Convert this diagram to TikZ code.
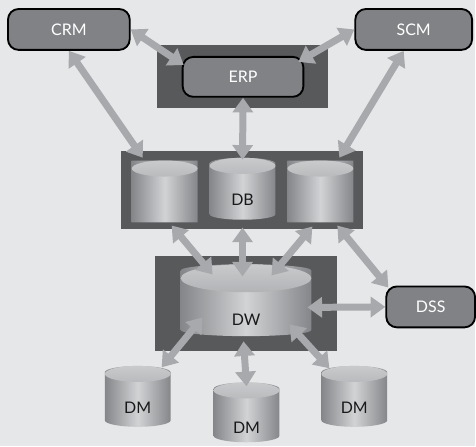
\documentclass[tikz,border=0pt]{standalone}
\usepackage{fontspec}
\setmainfont{Lato}
\usetikzlibrary{shapes.geometric,arrows.meta,calc}
\definecolor{bggray}{HTML}{E6E7E8}
\definecolor{panelgray}{HTML}{58595B}
\definecolor{boxgray}{HTML}{808285}
\definecolor{linkgray}{HTML}{A7A9AC}
\definecolor{cylside}{HTML}{858689}
\definecolor{cyllight}{HTML}{D2D3D5}
\definecolor{captop}{HTML}{C9CACC}
\definecolor{capbot}{HTML}{8E8F92}
\newcommand{\lowered}[2]{\raisebox{-#1}[0pt][0pt]{#2}}
\begin{document}
\begin{tikzpicture}[x=0.75pt, y=-0.75pt,
    panel/.style={rectangle, fill=panelgray, inner sep=0pt},
    app/.style={rectangle, draw=black, line width=1.4pt, fill=boxgray, rounded corners=8pt,
        text=white, minimum height=30.75pt, font=\fontsize{12}{14}\selectfont},
    store/.style 2 args={cylinder, shape border rotate=90, aspect=0.48, inner sep=0pt,
        minimum width=#1, minimum height=#2, left color=cylside, right color=cylside,
        middle color=cyllight, text=black!90, font=\fontsize{12}{14}\selectfont},
    cap/.style 2 args={path picture={\shade[top color=captop, bottom color=capbot]
        ([yshift=-#2]path picture bounding box.north) ellipse [x radius=#1, y radius=#2];}},
    link/.style={<->, draw=linkgray, line width=5.25pt, >={Triangle[width=15pt,length=11pt]}}
]
% Background
\fill[bggray] (0,0) rectangle (476,447);

% Panels
\node[panel, minimum width=129pt, minimum height=47.25pt] (erpbox) at (243,76.5) {};
\node[panel, minimum width=182.25pt, minimum height=58.5pt] (dbbox) at (242.5,190) {};
\node[panel, minimum width=137.25pt, minimum height=72pt] (dwbox) at (246.5,304) {};

% Applications
\node[app, minimum width=91.5pt] (crm) at (69,29.5) {CRM};
\node[app, minimum width=87.75pt] (scm) at (414.5,29.5) {SCM};
\node[app, minimum width=90.75pt, minimum height=30pt] (erp) at (243.5,77) {ERP};
\node[app, minimum width=66.75pt] (dss) at (431.5,307.5) {DSS};

% Stores
\node[store={49.5pt}{46.5pt}, cap={24.75pt}{6pt}] (dbl) at (165,192) {};
\node[store={49.5pt}{46.5pt}, cap={24.75pt}{6pt}] (db) at (243,192) {\lowered{10.3pt}{DB}};
\node[store={49.5pt}{46.5pt}, cap={24.75pt}{6pt}] (dbr) at (321,192) {};
\node[store={98.25pt}{54pt}, cap={49.1pt}{10.5pt}, aspect=0.43] (dw) at (246.5,304) {\lowered{16.3pt}{DW}};
\node[store={49.5pt}{45.75pt}, cap={24.75pt}{6pt}] (dm1) at (138,400.5) {\lowered{10.7pt}{DM}};
\node[store={49.5pt}{45pt}, cap={24.75pt}{6pt}] (dm2) at (247,416.5) {\lowered{13.7pt}{DM}};
\node[store={49.5pt}{45.75pt}, cap={24.75pt}{6pt}] (dm3) at (355,400.5) {\lowered{10.7pt}{DM}};

% Links
\draw[link] (crm.east) -- ($(erp.north west)+(2,9)$);
\draw[link] ($(erp.north east)+(-6,6)$) -- (scm.west);
\draw[link] (crm.south) -- ($(dbl.center)+(-22,-34)$);
\draw[link] ($(scm.south)+(-10,0)$) -- ($(dbr.center)+(19,-34)$);
\draw[link] (erp.south) -- ($(db.center)+(0,-32)$);

\draw[link] ($(dbl.center)+(7,34)$) -- ($(dw.center)+(-33.5,-29)$);
\draw[link] ($(db.center)+(0,36)$) -- ($(dw.center)+(-3.5,-27)$);
\draw[link] ($(dbr.center)+(-8,35)$) -- ($(dw.center)+(25.5,-28)$);
\draw[link] ($(dbr.center)+(17,34)$) -- ($(dss.north west)+(3,2)$);
\draw[link] ($(dw.center)+(61.5,4)$) -- (dss.west);

\draw[link] ($(dw.center)+(-43.5,14)$) -- ($(dm1.center)+(24,-32.5)$);
\draw[link] ($(dw.center)+(-2.5,38)$) -- ($(dm2.center)+(0,-29.5)$);
\draw[link] ($(dw.center)+(43.5,21)$) -- ($(dm3.center)+(-25,-31.5)$);
\end{tikzpicture}
\end{document}
